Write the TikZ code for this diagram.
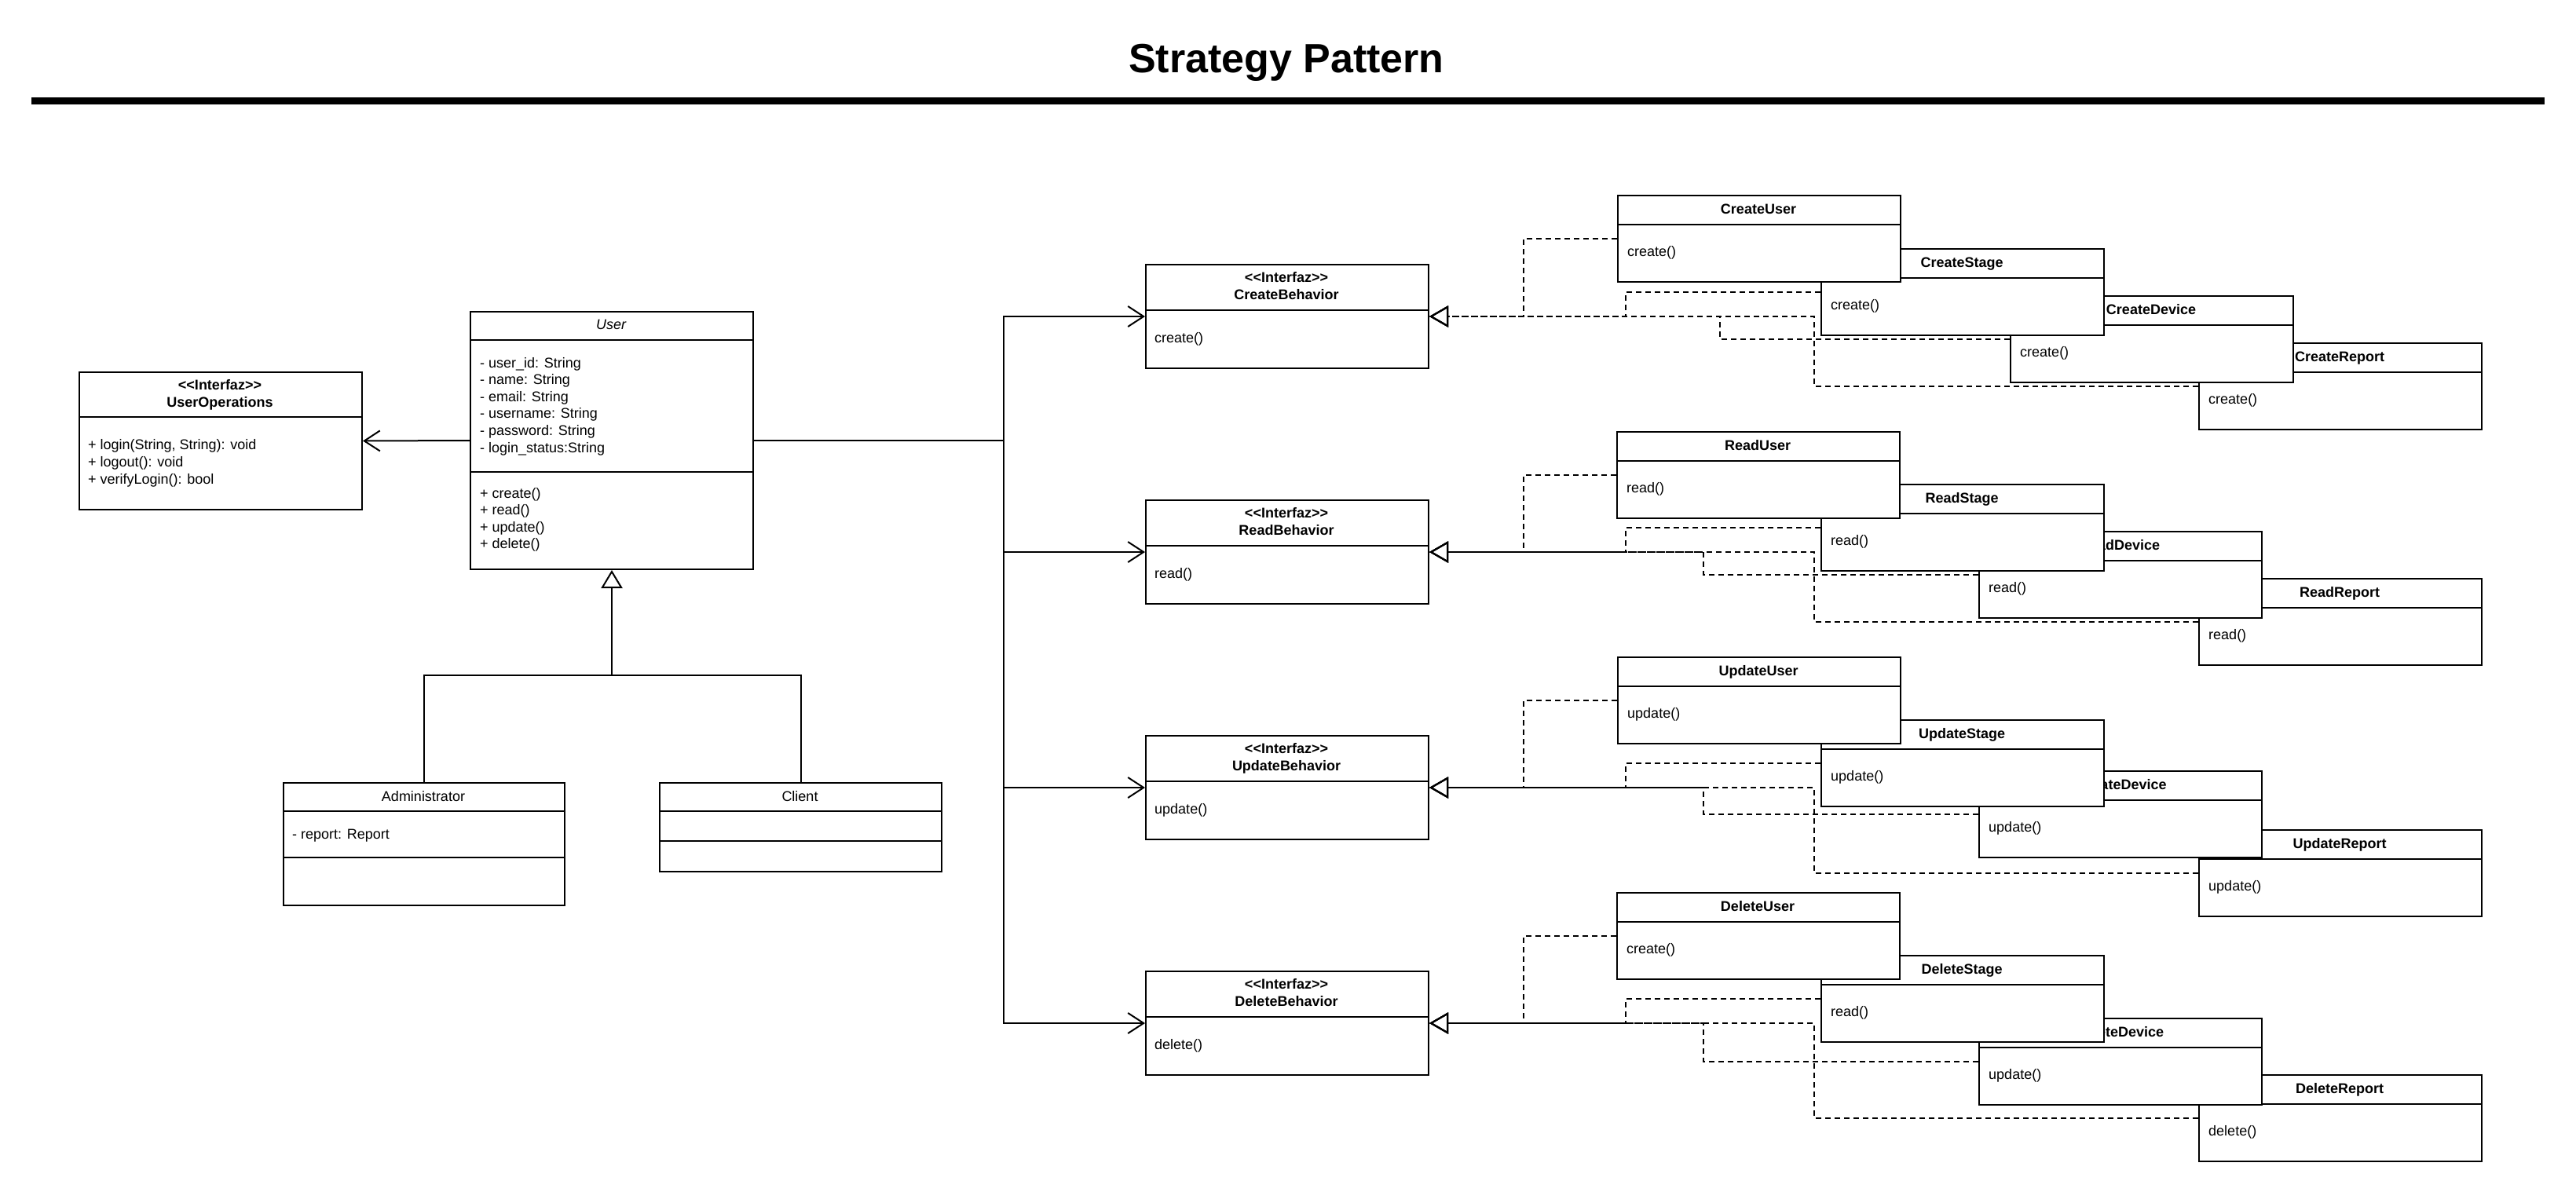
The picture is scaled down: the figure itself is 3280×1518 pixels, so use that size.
\documentclass[tikz,border=0pt]{standalone}
\usepackage{fontspec}
\setmainfont{Liberation Sans}[Ligatures=TeXOff]
\usetikzlibrary{arrows.meta,calc,backgrounds}
\tikzset{
  box/.style={draw, fill=white, line width=2pt, inner sep=0pt, anchor=north west},
  divline/.style={line width=2pt},
  txt/.style={font=\fontsize{18}{21.6}\selectfont, inner sep=0pt, anchor=base west},
  ttl/.style={font=\fontsize{18}{21.6}\selectfont\bfseries, inner sep=0pt, anchor=base},
  nml/.style={font=\fontsize{18}{21.6}\selectfont, inner sep=0pt, anchor=base},
  realize/.style={line width=2pt, dash pattern=on 7pt off 5pt,
    -{Triangle[open, length=24pt, width=27pt]}},
  assoc/.style={line width=2pt, -{Straight Barb[length=20pt, width=26pt]}},
  gen/.style={line width=2pt, -{Triangle[open, length=23pt, width=27pt]}},
  plainline/.style={line width=2pt},
}
% class-box helpers
\newcommand\umlbox[6]{% name, x, y, w, h, divider offsets
  \node[box, minimum width=#4pt, minimum height=#5pt] (#1) at (#2,#3) {};
  \foreach \d in {#6} \draw[divline] (#2,#3+\d) -- (#2+#4,#3+\d);
}
\newcommand\tlines[5]{% prefix, x, first centre y, step, list
  \foreach \t [count=\i] in {#5}
    \node[txt] (#1\i) at (#2,{#3+6+(\i-1)*#4}) {\t};
}
\newcommand\impl[5]{% name, x, y, title, method
  \node[box, minimum width=360pt, minimum height=110pt] (#1) at (#2,#3) {};
  \draw[divline] (#2,#3+38) -- (#2+360,#3+38);
  \node[ttl] (#1-t) at (#2+180,#3+24) {#4};
  \node[txt] (#1-m) at (#2+13,#3+78) {#5};
}
\newcommand\behav[4]{% name, top y, title, method
  \node[box, minimum width=360pt, minimum height=132pt] (#1) at (1458,#2) {};
  \draw[divline] (1458,#2+59) -- (1818,#2+59);
  \node[ttl] (#1-s) at (1638,#2+23) {<<Interfaz>>};
  \node[ttl] (#1-t) at (1638,#2+45) {#3};
  \node[txt] (#1-m) at (1470,#2+100) {#4};
}
\begin{document}
\begin{tikzpicture}[x=1pt,y=-1pt]
\useasboundingbox (0,0) rectangle (3280,1518);

% title
\node[font=\fontsize{52}{60}\selectfont\bfseries, inner sep=0pt, anchor=base] (title) at (1638,92) {Strategy Pattern};
\draw[line width=9pt] (40,128) -- (3240,128);

% UserOperations
\umlbox{UO}{100}{473}{360}{175}{58}
\node[ttl] (UO-s) at (280,496) {<<Interfaz>>};
\node[ttl] (UO-t) at (280,518) {UserOperations};
\tlines{UOm}{112}{566}{22}{{+ login(String, String): void},{+ logout(): void},{+ verifyLogin(): bool}}

% User
\umlbox{User}{598}{396}{360}{328}{37,205}
\node[nml, font=\fontsize{18}{21.6}\selectfont\itshape] (User-t) at (778,419) {User};
\tlines{Ua}{611}{462}{21.6}{{- user\_id: String},{- name: String},{- email: String},{- username: String},{- password: String},{- login\_status:String}}
\tlines{Um}{611}{628}{21.6}{{+ create()},{+ read()},{+ update()},{+ delete()}}

% Administrator / Client
\umlbox{Admin}{360}{996}{358}{156}{37,96}
\node[nml] (Admin-t) at (539,1020) {Administrator};
\node[txt] (Admin-a) at (372,1068) {- report: Report};
\umlbox{Client}{839}{996}{359}{113}{37,75}
\node[nml] (Client-t) at (1018.5,1020) {Client};

% behaviours
\behav{CB}{336}{CreateBehavior}{create()}
\behav{RB}{636}{ReadBehavior}{read()}
\behav{UB}{936}{UpdateBehavior}{update()}
\behav{DB}{1236}{DeleteBehavior}{delete()}

% implementations (drawn back to front)
\impl{CR}{2799}{436}{CreateReport}{create()}
\impl{CD}{2559}{376}{CreateDevice}{create()}
\impl{CS}{2318}{316}{CreateStage}{create()}
\impl{CU}{2059}{248}{CreateUser}{create()}

\impl{RR}{2799}{736}{ReadReport}{read()}
\impl{RD}{2519}{676}{ReadDevice}{read()}
\impl{RS}{2318}{616}{ReadStage}{read()}
\impl{RU}{2058}{549}{ReadUser}{read()}

\impl{UR}{2799}{1056}{UpdateReport}{update()}
\impl{UD}{2519}{981}{UpdateDevice}{update()}
\impl{US}{2318}{916}{UpdateStage}{update()}
\impl{UU}{2059}{836}{UpdateUser}{update()}

\impl{DR}{2799}{1368}{DeleteReport}{delete()}
\impl{DD}{2519}{1296}{DeleteDevice}{update()}
\impl{DS}{2318}{1216}{DeleteStage}{read()}
\impl{DU}{2058}{1136}{DeleteUser}{create()}

\begin{scope}[on background layer]
% User -> UserOperations
\draw[assoc] (User.west) -- (UO.east);
% generalisation
\coordinate (junc) at (User.south |- 0,860);
\draw[plainline] (Admin.north) |- (junc) -| (Client.north);
\draw[gen] (junc) -- (User.south);
% associations to behaviours
\foreach \b in {CB,RB,UB,DB}
  \draw[assoc] (User.east) -| ([xshift=-180pt]\b.west) -- (\b.west);
% realizations
\draw[realize] (CU.west) -| ([xshift=120pt]CB.east) -- (CB.east);
\draw[realize] (CS.west) -| ([xshift=250pt]CB.east) -- (CB.east);
\draw[realize] (CD.west) -| ([xshift=370pt]CB.east) -- (CB.east);
\draw[realize] (CR.west) -| ([xshift=490pt]CB.east) -- (CB.east);
\foreach \g in {R,U,D}{
  \draw[realize] (\g U.west) -| ([xshift=120pt]\g B.east) -- (\g B.east);
  \draw[realize] (\g S.west) -| ([xshift=250pt]\g B.east) -- (\g B.east);
  \draw[realize] (\g D.west) -| ([xshift=349pt]\g B.east) -- (\g B.east);
  \draw[realize] (\g R.west) -| ([xshift=490pt]\g B.east) -- (\g B.east);
}
\end{scope}
\end{tikzpicture}
\end{document}
